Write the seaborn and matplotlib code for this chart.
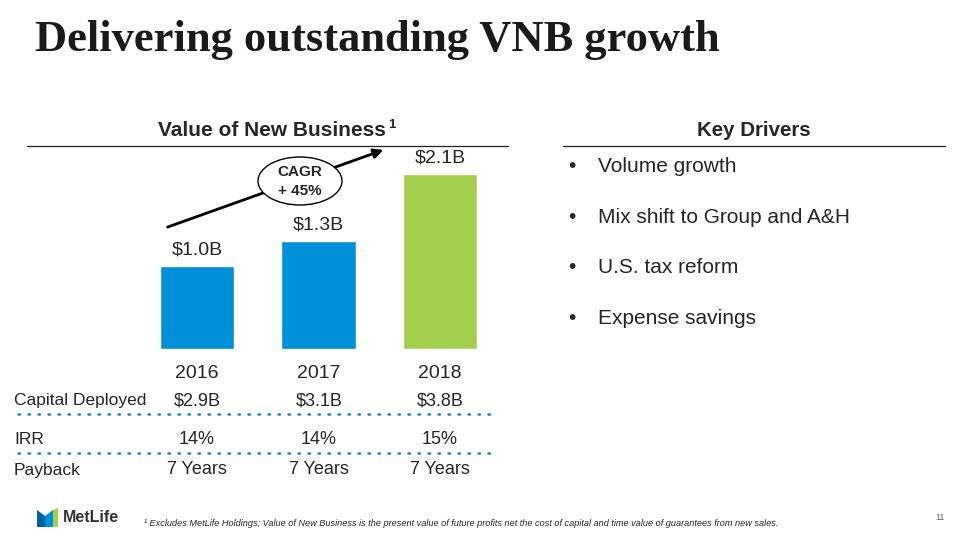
import matplotlib
matplotlib.use("Agg")
import matplotlib.pyplot as plt
import seaborn as sns
import pandas as pd
from matplotlib.patches import Ellipse, FancyArrowPatch, Polygon
from matplotlib.lines import Line2D

# data
years = ["2016", "2017", "2018"]
vnb = [1.0, 1.3, 2.1]
vnb_labels = ["$1.0B", "$1.3B", "$2.1B"]
capital_deployed = ["$2.9B", "$3.1B", "$3.8B"]
irr = ["14%", "14%", "15%"]
payback = ["7 Years", "7 Years", "7 Years"]
drivers = ["Volume growth", "Mix shift to Group and A&H", "U.S. tax reform", "Expense savings"]
bar_colors = ["#0090DA", "#0090DA", "#A4CE4E"]

sns.set_style("white")
plt.rcParams["font.family"] = ["Liberation Sans", "DejaVu Sans"]

W, H = 960, 540
fig = plt.figure(figsize=(9.6, 5.4), dpi=100)

def fx(px):
    return px / W

def fy(py):
    return 1 - py / H

# title
fig.text(fx(35), fy(40), "Delivering outstanding VNB growth", fontsize=32, fontweight="bold",
         family="Liberation Serif", va="center", ha="left", color="#1a1a1a")

# section headers
fig.text(fx(272), fy(131), "Value of New Business", fontsize=15, fontweight="bold", ha="center", va="center")
fig.text(fx(388), fy(125), "1", fontsize=9.5, fontweight="bold", ha="left", va="center")
fig.add_artist(Line2D([fx(27), fx(508)], [fy(146), fy(146)], color="#222222", lw=0.9))
fig.text(fx(754), fy(131), "Key Drivers", fontsize=14.8, fontweight="bold", ha="center", va="center")
fig.add_artist(Line2D([fx(563), fx(945)], [fy(146), fy(146)], color="#222222", lw=0.9))

# bar chart
ax = fig.add_axes([fx(136), fy(349), fx(365), 200 / H])
df = pd.DataFrame({"year": years, "vnb": vnb})
sns.barplot(data=df, x="year", y="vnb", hue="year", palette=bar_colors, width=0.61,
            legend=False, ax=ax, saturation=1)
ax.set_xlim(-0.5, 2.5)
ax.set_ylim(0, 2.4)
ax.axis("off")
for i, (v, lab) in enumerate(zip(vnb, vnb_labels)):
    ax.text(i, v + 0.09, lab, ha="center", va="bottom", fontsize=14)
    ax.text(i, -0.29, years[i], ha="center", va="center", fontsize=14)

# CAGR arrow and ellipse
arrow = FancyArrowPatch((fx(165), fy(228)), (fx(386), fy(149)), transform=fig.transFigure,
                        arrowstyle="-|>", mutation_scale=14, lw=2, color="black")
fig.add_artist(arrow)
ell = Ellipse((fx(300), fy(181)), fx(84), 48 / H, transform=fig.transFigure,
              facecolor="white", edgecolor="black", lw=1)
fig.add_artist(ell)
fig.text(fx(300), fy(172), "CAGR", fontsize=11, fontweight="bold", ha="center", va="center")
fig.text(fx(300), fy(191), "+ 45%", fontsize=11, fontweight="bold", ha="center", va="center")

# table below bars
col_x = [197, 319, 440]
rows = [("Capital Deployed", capital_deployed, 401),
        ("IRR", irr, 439),
        ("Payback", payback, 470)]
for name, vals, y in rows:
    fig.text(fx(14), fy(y), name, fontsize=12.5, ha="left", va="center")
    for cx, v in zip(col_x, vals):
        fig.text(fx(cx), fy(y), v, fontsize=13, ha="center", va="center")
for y in [414, 453]:
    fig.add_artist(Line2D([fx(18), fx(490)], [fy(y), fy(y)], color="#1a86c0",
                          lw=1.8, linestyle=(0, (0.6, 3.4)), dash_capstyle="round"))

# key drivers
for i, d in enumerate(drivers):
    y = 167 + i * 50.5
    fig.text(fx(568), fy(y), "\u2022", fontsize=15, ha="left", va="center")
    fig.text(fx(598), fy(y), d, fontsize=15, ha="left", va="center")

# logo
fig.add_artist(Polygon([(fx(37), fy(527)), (fx(37), fy(510)), (fx(45), fy(516)), (fx(45), fy(527))],
                       closed=True, transform=fig.transFigure, facecolor="#0061A0", edgecolor="none"))
fig.add_artist(Polygon([(fx(45), fy(527)), (fx(45), fy(516)), (fx(53), fy(510)), (fx(53), fy(527))],
                       closed=True, transform=fig.transFigure, facecolor="#0090DA", edgecolor="none"))
fig.add_artist(Polygon([(fx(53), fy(527)), (fx(53), fy(510)), (fx(58), fy(508)), (fx(58), fy(527))],
                       closed=True, transform=fig.transFigure, facecolor="#A4CE4E", edgecolor="none"))
fig.text(fx(63), fy(517), "MetLife", fontsize=11.5, fontweight="bold", ha="left", va="center",
         color="#333333")

# footnote and page number
fig.text(fx(144), fy(523), "\u00b9 Excludes MetLife Holdings; Value of New Business is the present value of future "
         "profits net the cost of capital and time value of guarantees from new sales.",
         fontsize=6.58, style="italic", ha="left", va="center")
fig.text(fx(945), fy(518), "11", fontsize=6.5, ha="right", va="center", color="#666666")

fig.savefig("out.png", dpi=100)
